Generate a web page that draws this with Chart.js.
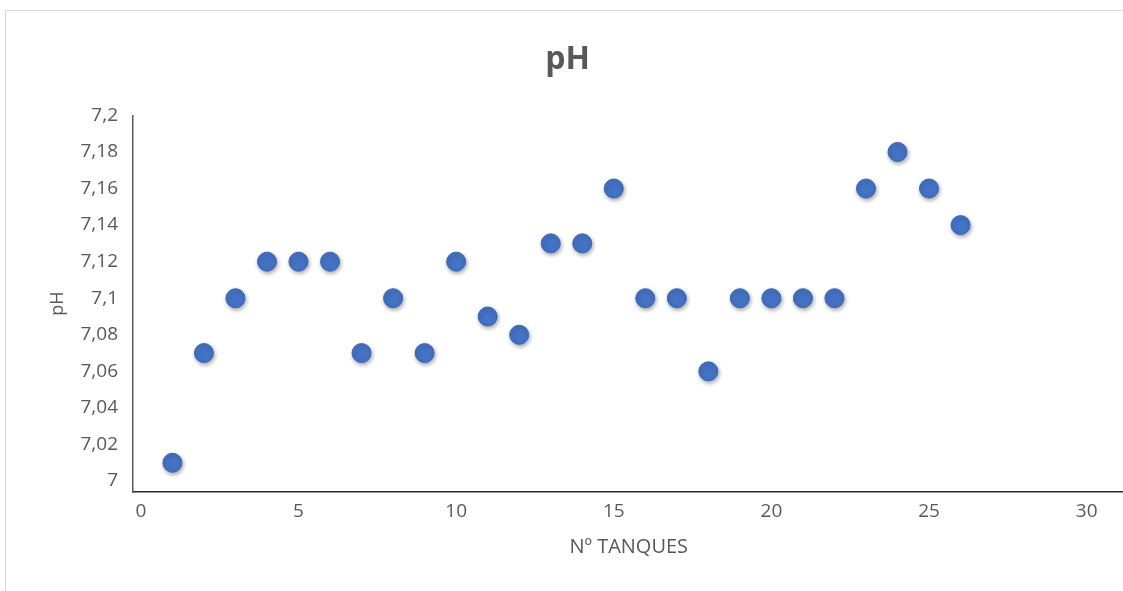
<!DOCTYPE html>
<html>
<head>
<meta charset="utf-8">
<script src="https://cdn.jsdelivr.net/npm/chart.js@4.4.0/dist/chart.umd.min.js"></script>
<style>
    html, body { margin: 0; padding: 0; background: #fff; overflow: hidden; width: 1123px; height: 591px; position: relative; }
    #frame {
        position: absolute; left: 5px; top: 10px; width: 1200px; height: 700px;
        border-left: 1px solid #d9d9d9; border-top: 1px solid #d9d9d9;
    }
    #wrap { position: absolute; left: 0; top: 0; width: 1135px; height: 591px; }
</style>
</head>
<body>
<div id="frame"></div>
<div id="wrap"><canvas id="chart"></canvas></div>
<script>
// Data
const tanks = [1, 2, 3, 4, 5, 6, 7, 8, 9, 10, 11, 12, 13, 14, 15, 16, 17, 18, 19, 20, 21, 22, 23, 24, 25, 26];
const phValues = [7.01, 7.07, 7.10, 7.12, 7.12, 7.12, 7.07, 7.10, 7.07, 7.12, 7.09, 7.08, 7.13,
    7.13, 7.16, 7.10, 7.10, 7.06, 7.10, 7.10, 7.10, 7.10, 7.16, 7.18, 7.16, 7.14];
const xTicks = [0, 5, 10, 15, 20, 25, 30];
const yTicks = [7, 7.02, 7.04, 7.06, 7.08, 7.1, 7.12, 7.14, 7.16, 7.18, 7.2];

const grey = '#595959';
const fontFamily = '"Open Sans", "Noto Sans", sans-serif';

// Soft drop shadow under the markers
const markerShadow = {
    id: 'markerShadow',
    beforeDatasetsDraw(chart) {
        const c = chart.ctx;
        c.save();
        c.shadowColor = 'rgba(0,0,0,0.35)';
        c.shadowBlur = 4;
        c.shadowOffsetX = 1;
        c.shadowOffsetY = 2;
    },
    afterDatasetsDraw(chart) {
        chart.ctx.restore();
    }
};

const fmt = v => Number(v.toFixed(2)).toString().replace('.', ',');

new Chart(document.getElementById('chart'), {
    type: 'scatter',
    data: {
        datasets: [{
            label: 'pH',
            data: tanks.map((t, i) => ({ x: t, y: phValues[i] })),
            pointRadius: 9.5,
            pointHoverRadius: 9.5,
            backgroundColor: '#4472C4',
            borderColor: '#3B66B5',
            borderWidth: 1
        }]
    },
    options: {
        responsive: true,
        maintainAspectRatio: false,
        animation: false,
        layout: { padding: { top: 23, left: 0, right: 0, bottom: 29 } },
        plugins: {
            legend: { display: false },
            tooltip: { enabled: false },
            title: {
                display: true,
                text: 'pH',
                color: grey,
                font: { family: fontFamily, size: 32, weight: 'bold' },
                padding: { top: 18, bottom: 36 }
            }
        },
        scales: {
            x: {
                type: 'linear',
                min: -0.25,
                max: 31.2,
                afterBuildTicks: s => { s.ticks = xTicks.map(v => ({ value: v })); },
                afterFit: s => { s.height = 70; },
                grid: { display: false, drawTicks: false },
                border: { display: true, color: '#262626', width: 1.5 },
                ticks: {
                    color: grey,
                    padding: 8,
                    maxRotation: 0,
                    font: { family: fontFamily, size: 19 }
                },
                title: {
                    display: true,
                    text: 'Nº TANQUES',
                    color: grey,
                    font: { family: fontFamily, size: 20 },
                    padding: { top: 4, bottom: 3 }
                }
            },
            y: {
                min: 6.994,
                max: 7.2,
                afterBuildTicks: s => { s.ticks = yTicks.map(v => ({ value: v })); },
                afterFit: s => { s.width = 133; },
                grid: { display: false, drawTicks: false },
                border: { display: true, color: '#595959', width: 1.5 },
                ticks: {
                    color: grey,
                    padding: 15,
                    font: { family: fontFamily, size: 19 },
                    callback: v => fmt(v)
                },
                title: {
                    display: true,
                    text: 'pH',
                    color: grey,
                    font: { family: fontFamily, size: 18 },
                    padding: { top: 47, bottom: 4 }
                }
            }
        }
    },
    plugins: [markerShadow]
});
</script>
</body>
</html>
